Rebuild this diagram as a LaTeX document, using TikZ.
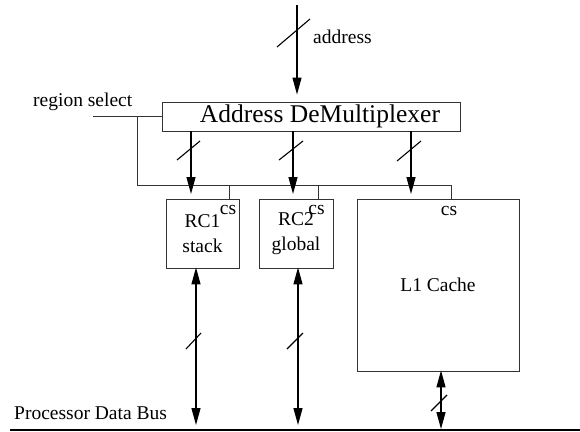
\documentclass[tikz,border=0pt]{standalone}
\usepackage{fontspec}
\setmainfont{Liberation Serif}
\usetikzlibrary{arrows.meta}
\begin{document}
\begin{tikzpicture}[x=1pt,y=-1pt,
  thinline/.style={draw=black!80, line width=0.9pt},
  box/.style={thinline, rectangle, inner sep=0pt, align=center},
  arr/.style={draw=black, line width=1.3pt, -{Triangle[length=17pt,width=9pt]}},
  darr/.style={draw=black, line width=1.3pt, {Triangle[length=17pt,width=9pt]}-{Triangle[length=17pt,width=9pt]}},
  slashline/.style={draw=black, line width=1.1pt},
  lbl/.style={inner sep=0pt, font=\fontsize{19.5}{25}\selectfont},
  font=\fontsize{19.5}{25}\selectfont
]
\useasboundingbox (0,0) rectangle (580,431);

% blocks
\node[box, minimum width=298pt, minimum height=29pt, font=\fontsize{25.5}{30}\selectfont] (demux) at (311,116.5) {\hspace*{18pt}Address DeMultiplexer};
\node[box, minimum width=73pt, minimum height=69pt] (rc1) at (202.5,233.5) {RC1\\stack};
\node[box, minimum width=74pt, minimum height=69pt] (rc2) at (296,233.5) {RC2\\global};
\node[box, minimum width=162pt, minimum height=172pt] (l1) at (438,285) {L1 Cache};

% chip-select labels
\node[lbl, anchor=base] (cs1) at (228,214) {cs};
\node[lbl, anchor=base] (cs2) at (316.5,214) {cs};
\node[lbl, anchor=base] (cs3) at (449,215) {cs};

% texts
\node[lbl, anchor=base west] (addr) at (313,43) {address};
\node[lbl, anchor=base west] (rsel) at (33,106) {region select};
\node[lbl, anchor=base west] (pbus) at (14,419.5) {Processor Data Bus};

% coordinates
\coordinate (addrtop) at (297,5);
\coordinate (selend) at (93,116.5);
\coordinate (tap) at (137,116.5);
\coordinate (csbus) at (451,185);
\coordinate (s1) at (229,185);
\coordinate (s2) at (318,185);
\coordinate (s3) at (451,185);
\coordinate (a1) at (191,194);
\coordinate (a2) at (293,194);
\coordinate (a3) at (411,194);
\coordinate (b1) at (196,430);
\coordinate (b2) at (298,430);
\coordinate (b3) at (441,430);
\coordinate (busL) at (10,430);
\coordinate (busR) at (580,430);

% address input
\draw[arr, shorten >=7pt] (addrtop) -- (demux.north -| addrtop);
\draw[slashline] (277,47) -- (310,19);

% region select wiring
\draw[thinline] (selend) -- (demux.west);
\draw[thinline] (tap) |- (csbus);
\draw[thinline] (s1) -- (rc1.north -| s1);
\draw[thinline] (s2) -- (rc2.north -| s2);
\draw[thinline] (s3) -- (l1.north -| s3);

% demux outputs
\draw[arr] (demux.south -| a1) -- (a1);
\draw[arr] (demux.south -| a2) -- (a2);
\draw[arr] (demux.south -| a3) -- (a3);
\draw[slashline] (177,160) -- (200,141);
\draw[slashline] (279,160) -- (303,141);
\draw[slashline] (397,161) -- (421,141);

% data bus
\draw[line width=1.8pt] (busL) -- (busR);
\draw[darr, shorten <=-1pt, shorten >=5pt] (rc1.south -| b1) -- (b1);
\draw[darr, shorten <=-1pt, shorten >=5pt] (rc2.south -| b2) -- (b2);
\draw[darr, shorten <=-1pt, shorten >=1pt] (l1.south -| b3) -- (b3);
\draw[slashline] (186,349) -- (201,333);
\draw[slashline] (287,349) -- (303,333);
\draw[slashline] (431,411) -- (447,395);
\end{tikzpicture}
\end{document}
